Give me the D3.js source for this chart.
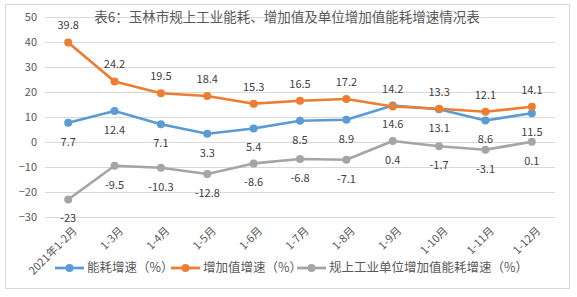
<!DOCTYPE html>
<html>
<head>
<meta charset="utf-8">
<script src="https://cdn.jsdelivr.net/npm/d3@7"></script>
<style>
body{margin:0;background:#fff;}
svg text{font-family:"Noto Sans CJK SC","Microsoft YaHei",sans-serif;}
</style>
</head>
<body>
<div id="chart"></div>
<script>
const months = ["2021年1-2月","1-3月","1-4月","1-5月","1-6月","1-7月","1-8月","1-9月","1-10月","1-11月","1-12月"];
const energy = [7.7,12.4,7.1,3.3,5.4,8.5,8.9,14.6,13.1,8.6,11.5];
const added = [39.8,24.2,19.5,18.4,15.3,16.5,17.2,14.2,13.3,12.1,14.1];
const unitUse = [-23,-9.5,-10.3,-12.8,-8.6,-6.8,-7.1,0.4,-1.7,-3.1,0.1];
const yTicks = [-30,-20,-10,0,10,20,30,40,50];
const seriesNames = ["能耗增速（%）","增加值增速（%）","规上工业单位增加值能耗增速（%）"];

const width = 577, height = 297;
const colors = ["#5B9BD5","#ED7D31","#A5A5A5"];

const svg = d3.select('#chart').append('svg')
  .attr('width', width).attr('height', height);

svg.append('rect')
  .attr('x',5.5).attr('y',4.5).attr('width',564).attr('height',284)
  .attr('fill','#fff').attr('stroke','#d9d9d9');

const x = d3.scalePoint().domain(months).range([45,555]).padding(0.5);
const y = d3.scaleLinear().domain([-30,50]).range([217,17]);

// gridlines
svg.append('g').selectAll('line')
  .data(yTicks).enter().append('line')
  .attr('x1',45).attr('x2',555)
  .attr('y1',d=>Math.round(y(d))+0.5).attr('y2',d=>Math.round(y(d))+0.5)
  .attr('stroke','#d9d9d9');

const yAxis = svg.append('g')
  .attr('transform','translate(45,0)')
  .call(d3.axisLeft(y).tickValues(yTicks).tickSize(0).tickPadding(8));
yAxis.select('.domain').remove();
yAxis.selectAll('text').attr('font-size','11px').attr('fill','#595959');

// x labels
svg.append('g').selectAll('text')
  .data(months).enter().append('text')
  .attr('transform',d=>'translate('+(x(d)+4)+',226) rotate(-45)')
  .attr('text-anchor','end')
  .attr('dy','0.7em')
  .attr('font-size','11px')
  .attr('fill','#595959')
  .text(d=>d);

// title
svg.append('text')
  .attr('x',287).attr('y',22)
  .attr('text-anchor','middle')
  .attr('font-size','13.5px')
  .attr('fill','#595959')
  .text('表6：玉林市规上工业能耗、增加值及单位增加值能耗增速情况表');

const line = d3.line().x((d,i)=>x(months[i])).y(d=>y(d));
const allSeries = [energy, added, unitUse];
const labelOffset = [19, -17, 19];

allSeries.forEach(function(vals, s){
  const g = svg.append('g');
  g.append('path').datum(vals)
    .attr('d', line)
    .attr('fill','none')
    .attr('stroke', colors[s])
    .attr('stroke-width',2.75)
    .attr('stroke-linejoin','round');
  g.selectAll('circle').data(vals).enter().append('circle')
    .attr('cx',(d,i)=>x(months[i]))
    .attr('cy',d=>y(d))
    .attr('r',4)
    .attr('fill',colors[s]);
});

// data labels drawn after lines
allSeries.forEach(function(vals, s){
  svg.append('g').selectAll('text').data(vals).enter().append('text')
    .attr('x',(d,i)=>x(months[i]))
    .attr('y',d=>y(d)+labelOffset[s])
    .attr('dy','0.35em')
    .attr('text-anchor','middle')
    .attr('font-size','11px')
    .attr('fill','#404040')
    .text(d=>d);
});

// legend
const legX = [55,171,297];
const leg = svg.append('g').selectAll('g')
  .data(seriesNames).enter().append('g')
  .attr('transform',(d,i)=>'translate('+legX[i]+',268)');
leg.append('line')
  .attr('x1',0).attr('x2',29).attr('y1',0).attr('y2',0)
  .attr('stroke',(d,i)=>colors[i]).attr('stroke-width',2.75);
leg.append('circle').attr('cx',14.5).attr('cy',0).attr('r',4)
  .attr('fill',(d,i)=>colors[i]);
leg.append('text')
  .attr('x',32).attr('y',0).attr('dy','0.35em')
  .attr('font-size','12.5px').attr('fill','#595959')
  .text(d=>d);
</script>
</body>
</html>
